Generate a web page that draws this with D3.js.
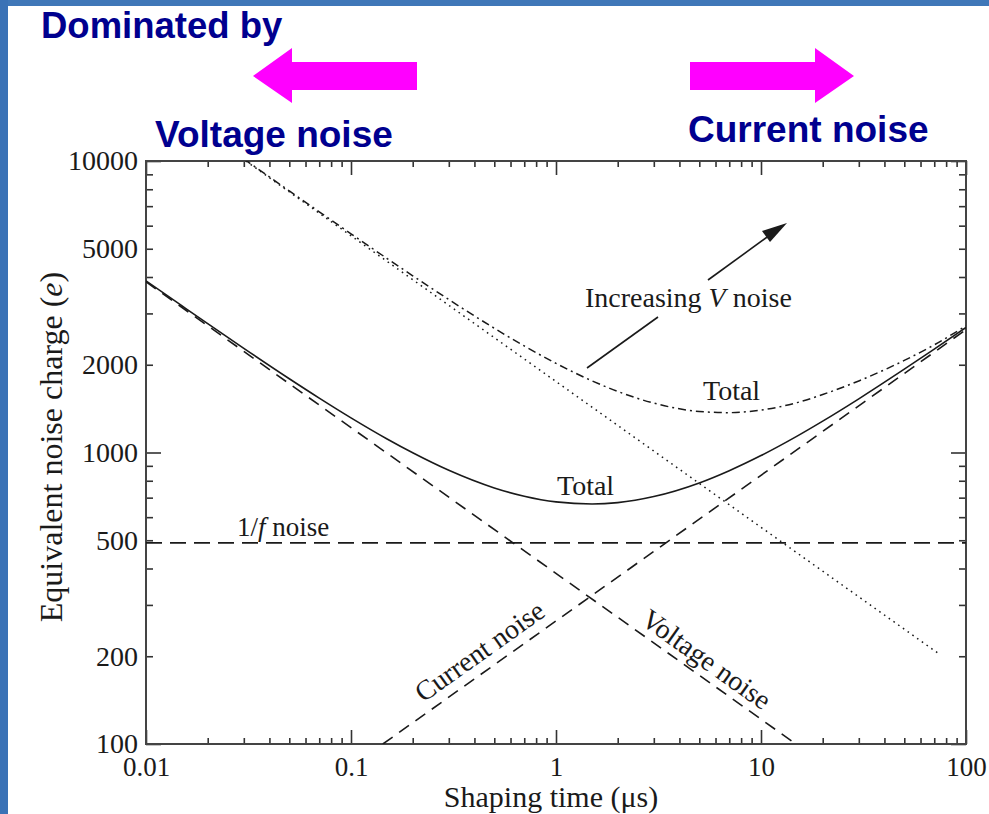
<!DOCTYPE html>
<html><head><meta charset="utf-8">
<script src="https://cdn.jsdelivr.net/npm/d3@7"></script>
<style>
html,body{margin:0;padding:0;background:#fff;}
svg{display:block;}
</style></head>
<body>
<svg id="chart" width="989" height="814"></svg>
<script>
// ---- data ----
const tauGrid = [0.01,0.015,0.02,0.03,0.05,0.07,0.1,0.15,0.2,0.3,0.5,0.7,1,1.5,2,3,5,7,10,15,20,30,50,70,100];
const totalNoise = [3881,3182,2766,2277,1791,1537,1315,1113,998,869,756,708,677,666,673,706,786,866,976,1138,1281,1528,1931,2263,2685];
const tauGridHighV = [0.03,0.05,0.07,0.1,0.15,0.2,0.3,0.5,0.7,1,1.5,2,3,5,7,10,15,20,30,50,70,100];
const totalNoiseHighV = [10162,7896,6694,5626,4629,4039,3347,2669,2320,2022,1761,1620,1477,1383,1370,1398,1483,1581,1760,2070,2340,2720];
const voltageTau = [0.01, 14.8];
const voltageNoise = [3850, 100];
const currentTau = [0.143, 100];
const currentNoise = [100, 2640];
const flickerTau = [0.01, 100];
const flickerNoise = [490, 490];
const voltageHighTau = [0.0307, 73];
const voltageHighNoise = [10000, 205];

const xTickValues = [0.01, 0.1, 1, 10, 100];
const xTickLabels = ["0.01", "0.1", "1", "10", "100"];
const yTickValues = [100, 200, 500, 1000, 2000, 5000, 10000];
const yTickLabels = ["100", "200", "500", "1000", "2000", "5000", "10000"];

// ---- layout ----
const svg = d3.select("#chart");
const L = 146, R = 966, T = 161, B = 744;
const x = d3.scaleLog().domain([0.01, 100]).range([L, R]);
const y = d3.scaleLog().domain([100, 10000]).range([B, T]);
const serif = "'Liberation Serif','Times New Roman',serif";
const sans = "'Liberation Sans',Arial,sans-serif";
const ink = "#1a1a1a";

// slide frame
svg.append("rect").attr("x",0).attr("y",0).attr("width",989).attr("height",6).attr("fill","#3f77b8");
svg.append("rect").attr("x",0).attr("y",0).attr("width",8).attr("height",814).attr("fill","#3a72b6");

// slide texts
const navy = "#00008f";
svg.append("text").attr("x",41).attr("y",38).text("Dominated by")
  .attr("font-family",sans).attr("font-weight","bold").attr("font-size",36.5).attr("fill",navy);
svg.append("text").attr("x",155).attr("y",147).text("Voltage noise")
  .attr("font-family",sans).attr("font-weight","bold").attr("font-size",37).attr("fill",navy);
svg.append("text").attr("x",688).attr("y",142).text("Current noise")
  .attr("font-family",sans).attr("font-weight","bold").attr("font-size",37).attr("fill",navy);

// magenta arrows
svg.append("polygon").attr("fill","#ff00ff")
  .attr("points","253,76 292,48 292,62 417,62 417,90 292,90 292,103");
svg.append("polygon").attr("fill","#ff00ff")
  .attr("points","854,76 815,48 815,62 690,62 690,90 815,90 815,103");

// minor tick values
const minorX = [], minorY = [];
[0.01,0.1,1,10].forEach(d => { for (let k=2;k<=9;k++) minorX.push(d*k); });
[100,1000].forEach(d => { for (let k=2;k<=9;k++) minorY.push(d*k); });
const majorX = xTickValues, majorY = [100,1000,10000];

function styleAxis(g){
  g.select(".domain").remove();
  g.selectAll(".tick line").attr("stroke","#333").attr("stroke-width",1.6);
}
// bottom
svg.append("g").attr("transform",`translate(0,${B})`)
  .call(d3.axisBottom(x).tickValues(minorX).tickSize(-6).tickFormat("")).call(styleAxis);
svg.append("g").attr("transform",`translate(0,${B})`)
  .call(d3.axisBottom(x).tickValues(majorX).tickSize(-14).tickPadding(13)
    .tickFormat((d,i)=>xTickLabels[i])).call(styleAxis)
  .call(g=>g.selectAll("text").attr("font-family",serif).attr("font-size",27).attr("fill",ink));
// top
svg.append("g").attr("transform",`translate(0,${T})`)
  .call(d3.axisTop(x).tickValues(minorX).tickSize(-6).tickFormat("")).call(styleAxis);
svg.append("g").attr("transform",`translate(0,${T})`)
  .call(d3.axisTop(x).tickValues(majorX).tickSize(-14).tickFormat("")).call(styleAxis);
// left
svg.append("g").attr("transform",`translate(${L},0)`)
  .call(d3.axisLeft(y).tickValues(minorY).tickSize(-7).tickFormat("")).call(styleAxis);
svg.append("g").attr("transform",`translate(${L},0)`)
  .call(d3.axisLeft(y).tickValues(majorY).tickSize(-15).tickFormat("")).call(styleAxis);
svg.append("g").attr("transform",`translate(${L},0)`)
  .call(d3.axisLeft(y).tickValues(yTickValues).tickSize(0).tickPadding(8)
    .tickFormat((d,i)=>yTickLabels[i])).call(styleAxis)
  .call(g=>g.selectAll("text").attr("font-family",serif).attr("font-size",28).attr("fill",ink));
// right
svg.append("g").attr("transform",`translate(${R},0)`)
  .call(d3.axisRight(y).tickValues(minorY).tickSize(-7).tickFormat("")).call(styleAxis);
svg.append("g").attr("transform",`translate(${R},0)`)
  .call(d3.axisRight(y).tickValues(majorY).tickSize(-15).tickFormat("")).call(styleAxis);

// frame
svg.append("rect").attr("x",L).attr("y",T).attr("width",R-L).attr("height",B-T)
  .attr("fill","none").attr("stroke","#444").attr("stroke-width",2);

// clip
svg.append("clipPath").attr("id","plotclip").append("rect")
  .attr("x",L).attr("y",T).attr("width",R-L).attr("height",B-T);
const plot = svg.append("g").attr("clip-path","url(#plotclip)");

const line = d3.line().x(d=>x(d[0])).y(d=>y(d[1])).curve(d3.curveMonotoneX);
function series(ts, vs){ return ts.map((t,i)=>[t, vs[i]]); }
function draw(data, dash, w){
  plot.append("path").attr("d", line(data)).attr("fill","none")
    .attr("stroke",ink).attr("stroke-width",w).attr("stroke-dasharray",dash);
}
draw(series(flickerTau, flickerNoise), "16,8", 1.7);
draw(series(voltageTau, voltageNoise), "12,8", 1.6);
draw(series(currentTau, currentNoise), "12,8", 1.6);
draw(series(voltageHighTau, voltageHighNoise), "1.6,4.2", 1.5);
draw(series(tauGridHighV, totalNoiseHighV), "8,4,2,4", 1.5);
draw(series(tauGrid, totalNoise), null, 1.6);

// annotations
function ann(px, py, size, rot, anchor){
  return svg.append("text").attr("font-family",serif).attr("font-size",size).attr("fill",ink)
    .attr("text-anchor",anchor||"start")
    .attr("transform",`translate(${px},${py}) rotate(${rot||0})`);
}
ann(557,495,28).text("Total");
ann(703,400,28).text("Total");
const inc = ann(585,307,28);
inc.append("tspan").text("Increasing ");
inc.append("tspan").attr("font-style","italic").text("V");
inc.append("tspan").text(" noise");
const fl = ann(237,536,27);
fl.append("tspan").text("1/");
fl.append("tspan").attr("font-style","italic").text("f");
fl.append("tspan").text(" noise");
ann(485,659,28,-35.4,"middle").text("Current noise");
ann(701,667,28,35.4,"middle").text("Voltage noise");

// increasing-V arrow
svg.append("line").attr("x1",587).attr("y1",368).attr("x2",658).attr("y2",317)
  .attr("stroke",ink).attr("stroke-width",1.6);
svg.append("line").attr("x1",708).attr("y1",280).attr("x2",770).attr("y2",235)
  .attr("stroke",ink).attr("stroke-width",1.6);
svg.append("polygon").attr("fill",ink).attr("points","787,223 762,231 770,242");

// axis titles
svg.append("text").attr("x",551).attr("y",807).attr("text-anchor","middle")
  .attr("font-family",serif).attr("font-size",30).attr("fill",ink)
  .text("Shaping time (\u03bcs)");
const yl = svg.append("text").attr("text-anchor","middle")
  .attr("transform","translate(62,447) rotate(-90)")
  .attr("font-family",serif).attr("font-size",32).attr("fill",ink);
yl.append("tspan").text("Equivalent noise charge (");
yl.append("tspan").attr("font-style","italic").text("e");
yl.append("tspan").text(")");
</script>
</body></html>
